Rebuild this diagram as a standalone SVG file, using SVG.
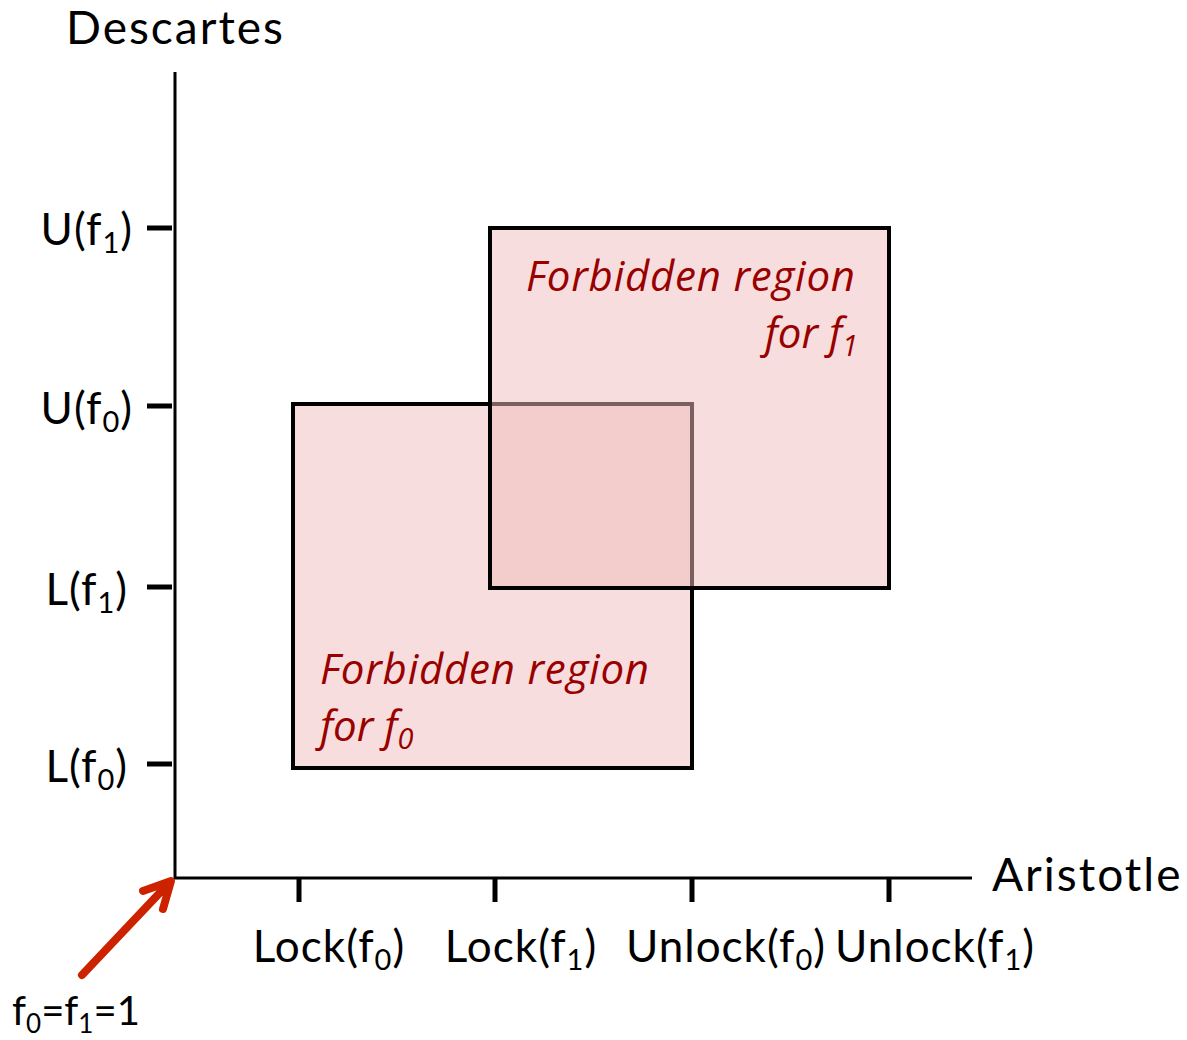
<svg xmlns="http://www.w3.org/2000/svg" width="1187" height="1040" viewBox="0 0 1187 1040">
  <style>
    .lbl { font-family: Lato, "Open Sans", "DejaVu Sans", sans-serif; font-size: 44px; letter-spacing: 1px; fill: #000; }
    .title { font-family: Lato, "Open Sans", "DejaVu Sans", sans-serif; font-size: 46px; letter-spacing: 2px; fill: #000; }
    .sub { font-size: 29px; }
    .note { font-family: "Open Sans", "Noto Sans", "DejaVu Sans", sans-serif; font-style: italic; font-size: 42px; fill: #990000; }
    .nsub { font-size: 29px; }
    .axis { stroke: #000; stroke-width: 3; fill: none; }
    .tick { stroke: #000; stroke-width: 5; fill: none; }
    .region { fill: #efbcbc; fill-opacity: 0.51; stroke: #000; stroke-width: 4; }
    .pointer { stroke: #cc2200; stroke-width: 8; fill: none; stroke-linecap: round; stroke-linejoin: round; }
  </style>

  <rect width="1187" height="1040" fill="#fff"/>

  <!-- forbidden regions -->
  <g id="region-f0">
    <rect class="region" x="293" y="404" width="399" height="364"/>
    <text class="note" x="320" y="684" textLength="329" lengthAdjust="spacing">Forbidden region</text>
    <text class="note" x="320" y="741">for <tspan>f</tspan><tspan class="nsub" dy="8">0</tspan></text>
  </g>
  <g id="region-f1">
    <rect class="region" x="490" y="228" width="399" height="360"/>
    <text class="note" x="526" y="291" textLength="329" lengthAdjust="spacing">Forbidden region</text>
    <text class="note" x="858" y="348" text-anchor="end">for <tspan>f</tspan><tspan class="nsub" dy="8">1</tspan></text>
  </g>

  <!-- axes and ticks -->
  <g id="connectors">
    <path class="axis" d="M175 72 V878 H972"/>
    <path class="tick" d="M147 228 H172 M147 406 H172 M147 587 H172 M147 764 H172"/>
    <path class="tick" d="M299 878 V902 M495 878 V902 M692 878 V902 M889 878 V902"/>
    <path class="pointer" d="M82 975 L170 882 M143 891 L171 881 L163 909"/>
  </g>

  <!-- axis titles -->
  <g id="axis-y-title"><text class="title" x="66" y="44">Descartes</text></g>
  <g id="axis-x-title"><text class="title" x="992" y="891">Aristotle</text></g>

  <!-- vertical axis labels -->
  <g id="label-u1"><text class="lbl" x="133" y="245" text-anchor="end">U(f<tspan class="sub" dy="8">1</tspan><tspan dy="-8">)</tspan></text></g>
  <g id="label-u0"><text class="lbl" x="133" y="424" text-anchor="end">U(f<tspan class="sub" dy="8">0</tspan><tspan dy="-8">)</tspan></text></g>
  <g id="label-l1"><text class="lbl" x="128" y="605" text-anchor="end">L(f<tspan class="sub" dy="8">1</tspan><tspan dy="-8">)</tspan></text></g>
  <g id="label-l0"><text class="lbl" x="128" y="782" text-anchor="end">L(f<tspan class="sub" dy="8">0</tspan><tspan dy="-8">)</tspan></text></g>

  <!-- horizontal axis labels -->
  <g id="label-lock0"><text class="lbl" x="329" y="962" text-anchor="middle">Lock(f<tspan class="sub" dy="8">0</tspan><tspan dy="-8">)</tspan></text></g>
  <g id="label-lock1"><text class="lbl" x="521" y="962" text-anchor="middle">Lock(f<tspan class="sub" dy="8">1</tspan><tspan dy="-8">)</tspan></text></g>
  <g id="label-unlock0"><text class="lbl" x="726" y="962" text-anchor="middle">Unlock(f<tspan class="sub" dy="8">0</tspan><tspan dy="-8">)</tspan></text></g>
  <g id="label-unlock1"><text class="lbl" x="935" y="962" text-anchor="middle">Unlock(f<tspan class="sub" dy="8">1</tspan><tspan dy="-8">)</tspan></text></g>

  <!-- origin note -->
  <g id="label-origin"><text class="lbl" x="12" y="1025" style="font-size:40px;letter-spacing:0">f<tspan style="font-size:26px" dy="8">0</tspan><tspan dy="-8">=f</tspan><tspan style="font-size:26px" dy="8">1</tspan><tspan dy="-8">=1</tspan></text></g>
</svg>
